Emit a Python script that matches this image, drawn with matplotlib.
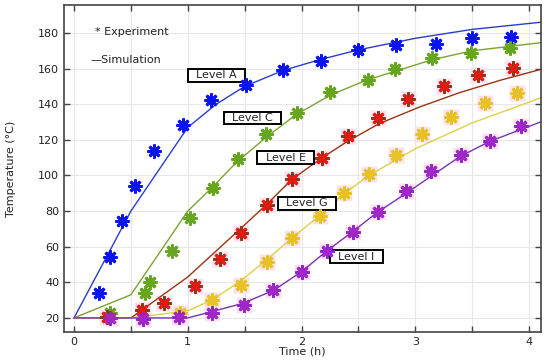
"""
Temperature rise per level: experiment markers vs simulation curves.
"""

import numpy as np
import matplotlib
matplotlib.use("Agg")
import matplotlib.pyplot as plt

# ── Data ─────────────────────────────────────────────────────────────────────
# Experiment markers
exp_a_t = [0.22, 0.32, 0.42, 0.54, 0.70, 0.96, 1.20, 1.51, 1.84, 2.17, 2.50, 2.83, 3.18, 3.50, 3.84]
exp_a_y = [34, 54, 74.5, 94, 114, 128.5, 142.5, 151, 159, 164, 170.5, 173, 174, 177, 178]

exp_c_t = [0.32, 0.62, 0.67, 0.86, 1.02, 1.22, 1.44, 1.69, 1.96, 2.25, 2.58, 2.82, 3.15, 3.49, 3.83]
exp_c_y = [23, 34, 40, 57.5, 76, 92.8, 109, 123.5, 135, 147, 153.6, 160, 166, 169, 171.6]

exp_e_t = [0.29, 0.60, 0.79, 1.06, 1.28, 1.47, 1.70, 1.92, 2.18, 2.41, 2.67, 2.94, 3.25, 3.55, 3.86]
exp_e_y = [20.5, 24.5, 28.5, 38, 53, 67.6, 83.4, 98, 110, 122, 132.5, 142.8, 150, 156.4, 160.2]

exp_g_t = [0.93, 1.21, 1.47, 1.70, 1.92, 2.16, 2.37, 2.59, 2.83, 3.06, 3.31, 3.61, 3.89]
exp_g_y = [22.6, 30, 38.5, 51.6, 64.8, 77, 90, 101, 111.6, 123.4, 133, 140.6, 146.2]

exp_i_t = [0.32, 0.61, 0.92, 1.21, 1.49, 1.75, 2.00, 2.22, 2.45, 2.67, 2.92, 3.14, 3.40, 3.66, 3.93]
exp_i_y = [20, 19.5, 20.6, 22.6, 27, 35.7, 46, 57.5, 68.5, 79.5, 91, 102.6, 111.6, 119.4, 127.8]

# Simulation curves
sim_a_t = [0, 0.5, 1.0, 1.25, 1.5, 1.84, 2.16, 2.5, 3.0, 3.5, 4.1]
sim_a_y = [20, 80, 127, 140, 150, 159, 165, 170.5, 177, 182, 186]

sim_c_t = [0, 0.5, 1.0, 1.21, 1.43, 1.7, 1.95, 2.25, 2.57, 3.15, 3.5, 4.1]
sim_c_y = [20, 33, 80, 93, 107.5, 122, 134, 145, 153.5, 165, 170, 174.5]

sim_e_t = [0, 0.5, 1.0, 1.47, 1.69, 1.91, 2.16, 2.4, 2.68, 3.04, 3.39, 3.75, 4.1]
sim_e_y = [20, 20, 43, 70.5, 83.5, 97.5, 109, 119, 129, 138.5, 146.5, 153.5, 159.5]

sim_g_t = [0, 0.5, 1.0, 1.21, 1.47, 1.69, 1.91, 2.16, 2.36, 2.58, 3.0, 3.5, 4.1]
sim_g_y = [20, 20, 24, 30, 41, 52.5, 64.5, 77.5, 89, 99.5, 115, 129.5, 143.5]

sim_i_t = [0, 0.5, 1.0, 1.21, 1.49, 1.76, 2.0, 2.22, 2.45, 2.66, 2.92, 3.39, 3.65, 4.1]
sim_i_y = [20, 20, 20, 23.5, 28.3, 35.7, 46, 57.5, 68.5, 79, 90, 110.5, 119, 130]

level_names = ["Level A", "Level C", "Level E", "Level G", "Level I"]
level_t = [1.25, 1.57, 1.86, 2.05, 2.48]
level_y = [156.2, 132.2, 110, 84.3, 54.4]

# ── Style ────────────────────────────────────────────────────────────────────
BLUE_M,   BLUE_L   = "#0a14f0", "#2a3ccc"
GREEN_M,  GREEN_L  = "#66a61e", "#7ba232"
RED_M,    BROWN_L  = "#ee1515", "#9a3412"
BROWN_M            = "#8a3a10"
YELLOW_M, YELLOW_L = "#e6c226", "#dcd244"
PURPLE_M, PURPLE_L = "#a624c8", "#7434b8"
PURPLE_M2          = "#8a2cc4"
HALO = "#fce2f1"
INK = "#222222"

plt.rcParams.update({
    "font.family": "DejaVu Sans",
    "font.size": 8,
})

AST8 = (8, 2, 0)
PLUS = (4, 2, 0)
CROSS = (4, 2, 45)
MS, MEW = 10, 2.0

fig = plt.figure(figsize=(5.5, 3.61), dpi=100)
ax = fig.add_axes([64 / 550, 1 - 332 / 361, 477 / 550, 327 / 361])

# ── Simulation lines ─────────────────────────────────────────────────────────
for t, y, c in [(sim_a_t, sim_a_y, BLUE_L), (sim_c_t, sim_c_y, GREEN_L),
                (sim_e_t, sim_e_y, BROWN_L), (sim_g_t, sim_g_y, YELLOW_L),
                (sim_i_t, sim_i_y, PURPLE_L)]:
    ax.plot(t, y, color=c, lw=1.0, zorder=2)

# pale halos behind the lower markers
for t, y in [(exp_e_t, exp_e_y), (exp_g_t, exp_g_y), (exp_i_t, exp_i_y)]:
    ax.plot(t, y, ls="none", marker="s", ms=12, color=HALO, mec="none", zorder=1.6)

# ── Experiment markers ───────────────────────────────────────────────────────
ax.plot(exp_a_t, exp_a_y, ls="none", marker=AST8, ms=MS, mew=MEW, color=BLUE_M, zorder=4)
ax.plot(exp_c_t, exp_c_y, ls="none", marker=AST8, ms=MS, mew=MEW, color=GREEN_M, zorder=4)
ax.plot(exp_e_t, exp_e_y, ls="none", marker=PLUS, ms=MS, mew=MEW, color=BROWN_M, zorder=4)
ax.plot(exp_e_t, exp_e_y, ls="none", marker=CROSS, ms=MS, mew=MEW, color=RED_M, zorder=4)
ax.plot(exp_g_t, exp_g_y, ls="none", marker=AST8, ms=MS, mew=MEW, color=YELLOW_M, zorder=4)
ax.plot(exp_i_t, exp_i_y, ls="none", marker=PLUS, ms=MS, mew=MEW, color=PURPLE_M2, zorder=4)
ax.plot(exp_i_t, exp_i_y, ls="none", marker=CROSS, ms=MS, mew=MEW, color=PURPLE_M, zorder=4)

# ── Level labels ─────────────────────────────────────────────────────────────
for name, t, y in zip(level_names, level_t, level_y):
    ax.text(t, y, f"  {name}  ", ha="center", va="center", fontsize=8, color=INK,
            bbox=dict(boxstyle="square,pad=0.12", fc="white", ec="black", lw=1.4),
            zorder=3)

# ── Legend-like notes ────────────────────────────────────────────────────────
ax.text(0.065, 0.917, "* Experiment", transform=ax.transAxes, ha="left", va="center",
        fontsize=8, color=INK)
ax.text(0.056, 0.832, "—Simulation", transform=ax.transAxes, ha="left", va="center",
        fontsize=8, color=INK)

# ── Axes ─────────────────────────────────────────────────────────────────────
ax.set_xlim(-0.088, 4.105)
ax.set_ylim(12.1, 195.7)
ax.set_xticks([0, 1, 2, 3, 4])
ax.set_xticks(np.arange(0, 4.01, 0.5), minor=True)
ax.set_yticks(np.arange(20, 181, 20))
ax.grid(True, which="major", color="#e8e8e8", lw=0.8)
ax.xaxis.grid(True, which="minor", color="#e8e8e8", lw=0.8)
ax.set_axisbelow(True)
ax.tick_params(which="both", direction="in", top=True, right=True, length=4,
               width=1, color="#444444", labelcolor=INK, labelsize=8)
for sp in ax.spines.values():
    sp.set_color("#444444")
    sp.set_linewidth(1.2)

ax.set_xlabel("Time (h)", fontsize=8, color=INK, labelpad=0)
ax.set_ylabel("Temperature (°C)", fontsize=8, color=INK, labelpad=16)

fig.savefig("out.png", dpi=100)
